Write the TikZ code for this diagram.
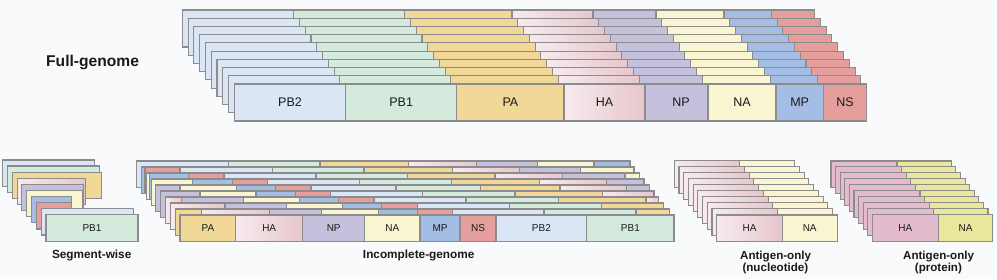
\documentclass[tikz,border=0pt]{standalone}
\usepackage{fontspec}
\setmainfont{Liberation Sans}
\definecolor{bg}{HTML}{F8FAFB}
\definecolor{bordergray}{HTML}{8C8C8C}
\definecolor{cPBtwo}{HTML}{DAE5F5}
\definecolor{cPBone}{HTML}{D4EADD}
\definecolor{cPA}{HTML}{F1D899}
\definecolor{cHAl}{HTML}{F7EAED}
\definecolor{cHAr}{HTML}{E7C6CD}
\definecolor{cNP}{HTML}{C5C1DD}
\definecolor{cNA}{HTML}{F8F5D0}
\definecolor{cMP}{HTML}{A4BDE4}
\definecolor{cNS}{HTML}{E49E9B}
\definecolor{cHAp}{HTML}{E4BBCD}
\definecolor{cNAp}{HTML}{E8E79C}
\definecolor{txt}{HTML}{1A1A1A}
\tikzset{
  seg/.style={draw=bordergray, line width=1.1pt},
  sPB2/.style={fill=cPBtwo},
  sPB1/.style={fill=cPBone},
  sPA/.style={fill=cPA},
  sHA/.style={left color=cHAl, right color=cHAr},
  sNP/.style={fill=cNP},
  sNA/.style={fill=cNA},
  sMP/.style={fill=cMP},
  sNS/.style={fill=cNS},
  sHAp/.style={fill=cHAp},
  sNAp/.style={fill=cNAp},
  biglab/.style={font=\fontsize{12.5}{15}\selectfont, text=txt, inner sep=0pt},
  smalllab/.style={font=\fontsize{10}{12}\selectfont, text=txt, inner sep=0pt},
  title/.style={font=\bfseries\fontsize{11.8}{14}\selectfont, text=txt, inner sep=0pt, anchor=base},
  subtitle/.style={font=\bfseries\fontsize{11.6}{14}\selectfont, text=txt, inner sep=0pt, anchor=base},
}
% one card: left x, top y, height, list of style/width
\newcommand\gcard[4]{%
  \xdef\gx{#1}%
  \foreach \s/\w in {#4}{%
    \edef\gopts{seg,\s}%
    \expandafter\path\expandafter[\gopts] (\gx,#2) rectangle ++(\w,#3);
    \pgfmathsetmacro\gtmp{\gx+\w}%
    \global\let\gx\gtmp
  }%
}
\begin{document}
\begin{tikzpicture}[x=1pt,y=-1pt]
\fill[bg] (0,0) rectangle (997,279);
\useasboundingbox (0,0) rectangle (997,279);

% ---------------- Full-genome ----------------
\foreach \k in {0,...,9}{
  \pgfmathsetmacro\lx{182.3+5.78*\k}
  \pgfmathsetmacro\ty{10+8.22*\k}
  \gcard{\lx}{\ty}{37}{sPB2/111.4,sPB1/111,sPA/107.3,sHA/81,sNP/63,sNA/68,sMP/47.3,sNS/43.3}
}
\node[biglab] (fPB2) at (290,102.6) {PB2};
\node[biglab] (fPB1) at (401.2,102.6) {PB1};
\node[biglab] (fPA) at (510.4,102.6) {PA};
\node[biglab] (fHA) at (604.5,102.6) {HA};
\node[biglab] (fNP) at (681,102.6) {NP};
\node[biglab] (fNA) at (742,102.6) {NA};
\node[biglab] (fMP) at (799.7,102.6) {MP};
\node[biglab] (fNS) at (845,102.6) {NS};
\node[font=\bfseries\fontsize{15.6}{18}\selectfont, text=txt, inner sep=0pt, anchor=base west] (tfull) at (46,66.7) {Full-genome};

% ---------------- Segment-wise ----------------
\foreach \k/\s/\w in {0/sPB2/92,1/sPB1/92,2/sPA/89,3/sHA/68,4/sNP/62,5/sNA/56,6/sMP/40,7/sNS/35,8/sPB2/92,9/sPB1/92}{
  \pgfmathsetmacro\lx{2.7+4.81*\k}
  \pgfmathsetmacro\ty{160+6.04*\k}
  \edef\gopts{seg,\s}
  \expandafter\path\expandafter[\gopts] (\lx,\ty) rectangle ++(\w,26.7);
}
\node[smalllab] (sPBone) at (92,227.8) {PB1};
\node[title] (tseg) at (91.7,258.3) {Segment-wise};

% ---------------- Incomplete-genome ----------------
\gcard{136.7}{161}{26.7}{sPB2/91.6,sPB1/91.7,sPA/88.3,sHA/68.4,sNP/60.6,sNA/56.7,sMP/36}
\gcard{141.5}{167}{26.7}{sMP/3.5,sNS/35,sPB2/92.3,sPB1/91.7,sPA/88.7,sHA/66.6,sNP/61.4,sNA/53.3}
\gcard{146.3}{173}{26.7}{sNA/3,sMP/39,sNS/35.7,sPB2/92,sPB1/91.3,sPA/87.7,sHA/67.7,sNP/62.3,sNA/14.3}
\gcard{151.1}{179}{26.7}{sNA/41.6,sMP/40,sNS/34.6,sPB2/92,sPB1/92.4,sPA/87.6,sHA/67.4,sNP/37.3}
\gcard{155.9}{185}{26.7}{sNP/24.1,sNA/56.3,sMP/39.2,sNS/35.5,sPB2/85,sPB1/84.7,sPA/79.3,sHA/66.7,sNP/22.6}
\gcard{160.8}{191}{26.7}{sNP/39.2,sNA/56,sMP/39.7,sNS/35,sPB2/92,sPB1/92.3,sPA/87.7,sHA/51.3}
\gcard{165.6}{197}{26.7}{sHA/16.1,sNP/61.6,sNA/56,sMP/39,sNS/35.7,sPB2/92,sPB1/92.3,sPA/87.7,sHA/12.3}
\gcard{170.4}{203}{26.7}{sHA/54.6,sNP/61.7,sNA/56,sMP/39,sNS/35.6,sPB2/92,sPB1/92.4,sPA/61.6}
\gcard{175.2}{209}{26.7}{sPA/26.5,sHA/67.6,sNP/52.4,sNA/56.6,sMP/39,sNS/35.4,sPB2/91.3,sPB1/92,sPA/33.3}
\gcard{180}{215}{26.7}{sPA/55.7,sHA/67,sNP/62,sNA/55.3,sMP/40,sNS/36,sPB2/90.7,sPB1/87.3}
\node[smalllab] (iPA) at (207.9,228.4) {PA};
\node[smalllab] (iHA) at (269.2,228.4) {HA};
\node[smalllab] (iNP) at (333.7,228.4) {NP};
\node[smalllab] (iNA) at (392.4,228.4) {NA};
\node[smalllab] (iMP) at (440,228.4) {MP};
\node[smalllab] (iNS) at (478,228.4) {NS};
\node[smalllab] (iPB2) at (541.4,228.4) {PB2};
\node[smalllab] (iPB1) at (630.4,228.4) {PB1};
\node[title] (tinc) at (418.7,258.3) {Incomplete-genome};

% ---------------- Antigen-only (nucleotide) ----------------
\foreach \k in {0,...,9}{
  \pgfmathsetmacro\lx{674.3+4.71*\k}
  \pgfmathsetmacro\ty{160.7+6.03*\k}
  \gcard{\lx}{\ty}{26.7}{sHA/65.5,sNA/55}
}
\node[smalllab] (nHA) at (749.5,228.4) {HA};
\node[smalllab] (nNA) at (809.7,228.4) {NA};
\node[subtitle] (tnuc1) at (775.6,259.7) {Antigen-only};
\node[subtitle] (tnuc2) at (775.4,271.6) {(nucleotide)};

% ---------------- Antigen-only (protein) ----------------
\foreach \k in {0,...,9}{
  \pgfmathsetmacro\lx{831+4.59*\k}
  \pgfmathsetmacro\ty{161+5.93*\k}
  \gcard{\lx}{\ty}{26.7}{sHAp/66,sNAp/54.3}
}
\node[smalllab] (pHA) at (905.3,227.8) {HA};
\node[smalllab] (pNA) at (965.5,227.8) {NA};
\node[subtitle] (tpro1) at (938.6,259.7) {Antigen-only};
\node[subtitle] (tpro2) at (938.4,271.6) {(protein)};
\end{tikzpicture}
\end{document}
